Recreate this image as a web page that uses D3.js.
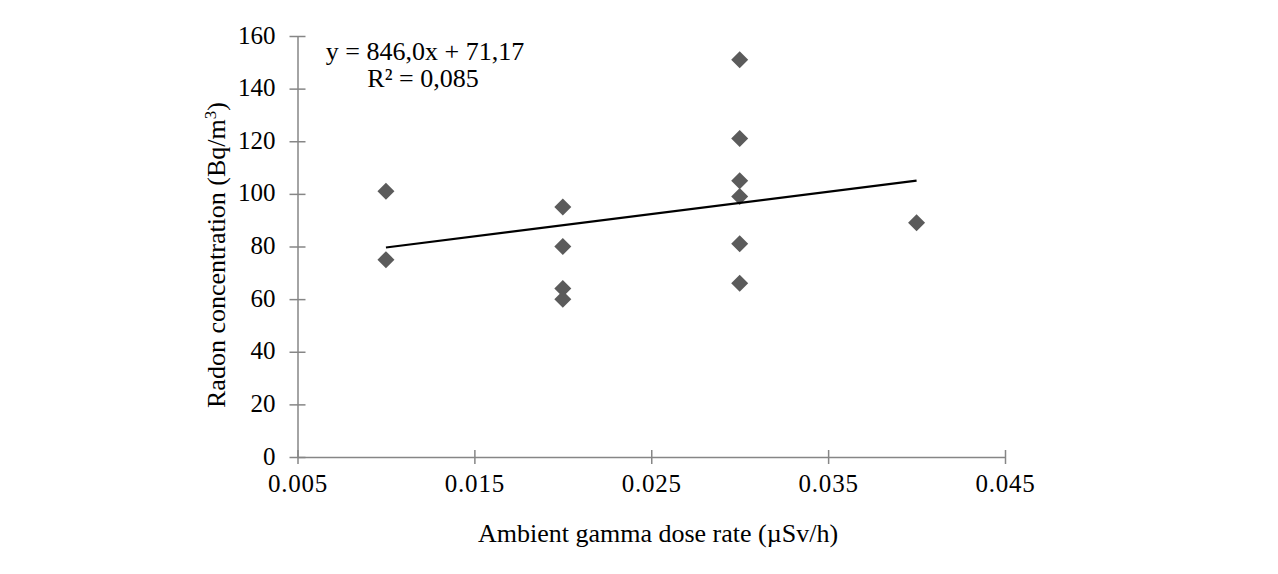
<!DOCTYPE html>
<html><head><meta charset="utf-8">
<script src="https://cdn.jsdelivr.net/npm/d3@7"></script>
<style>html,body{margin:0;padding:0;background:#fff;}svg{display:block;}</style>
</head><body>
<script>
const xValues = [0.01, 0.01, 0.02, 0.02, 0.02, 0.02, 0.03, 0.03, 0.03, 0.03, 0.03, 0.03, 0.04];
const yValues = [101, 75, 95, 80, 64, 60, 151, 121, 105, 99, 81, 66, 89];
const xTicks = [0.005, 0.015, 0.025, 0.035, 0.045];
const yTicks = [0, 20, 40, 60, 80, 100, 120, 140, 160];
const trendSlope = 846.0, trendIntercept = 71.17;
const trendRange = [0.01, 0.04];
const eqText = "y = 846,0x + 71,17";
const r2Text = "R² = 0,085";

const W = 1278, H = 574;
const svg = d3.select("body").append("svg").attr("width", W).attr("height", H);
const font = "'Liberation Serif', 'Times New Roman', serif";
const x = d3.scaleLinear().domain([0.005, 0.045]).range([297.5, 1005]);
const y = d3.scaleLinear().domain([0, 160]).range([457, 36]);
const axisCol = "#868686";

const xa = svg.append("g").attr("transform", `translate(0,${y(0)})`)
  .call(d3.axisBottom(x).tickValues(xTicks).tickFormat(d3.format(".3f")).tickSize(7).tickSizeOuter(0));
xa.selectAll(".tick line").attr("y1", -7);
const ya = svg.append("g").attr("transform", `translate(${x(0.005)},0)`)
  .call(d3.axisLeft(y).tickValues(yTicks).tickSize(8).tickSizeOuter(0));
ya.selectAll(".tick line").attr("x1", 8);
svg.selectAll(".domain, .tick line").attr("stroke", axisCol).attr("stroke-width", 1.5);
xa.selectAll("text").attr("font-family", font).attr("font-size", 25).attr("fill", "#000")
  .attr("y", 35).attr("dy", 0).attr("letter-spacing", 0.8);
ya.selectAll("text").attr("font-family", font).attr("font-size", 25).attr("fill", "#000")
  .attr("x", -22).attr("dy", 7);

// points
const diamond = "M0,-8.5L8.5,0L0,8.5L-8.5,0Z";
svg.append("g").selectAll("path").data(xValues.map((d, i) => [d, yValues[i]])).join("path")
  .attr("d", diamond).attr("fill", "#5b5b5b")
  .attr("transform", d => `translate(${x(d[0])},${y(d[1])})`);

// trend line
svg.append("line")
  .attr("x1", x(trendRange[0])).attr("y1", y(trendSlope * trendRange[0] + trendIntercept))
  .attr("x2", x(trendRange[1])).attr("y2", y(trendSlope * trendRange[1] + trendIntercept))
  .attr("stroke", "#000").attr("stroke-width", 2.2);

svg.append("text").attr("x", 425).attr("y", 60).attr("text-anchor", "middle")
  .attr("font-family", font).attr("font-size", 26).text(eqText);
svg.append("text").attr("x", 423).attr("y", 87).attr("text-anchor", "middle")
  .attr("font-family", font).attr("font-size", 26).text(r2Text);

svg.append("text").attr("x", 658).attr("y", 542).attr("text-anchor", "middle")
  .attr("font-family", font).attr("font-size", 26).text("Ambient gamma dose rate (µSv/h)");
const yt = svg.append("text").attr("transform", "translate(225,255) rotate(-90)").attr("text-anchor", "middle")
  .attr("font-family", font).attr("font-size", 26);
yt.append("tspan").text("Radon concentration (Bq/m");
yt.append("tspan").attr("dy", -9).attr("font-size", 17).text("3");
yt.append("tspan").attr("dy", 9).text(")");
</script>
</body></html>
